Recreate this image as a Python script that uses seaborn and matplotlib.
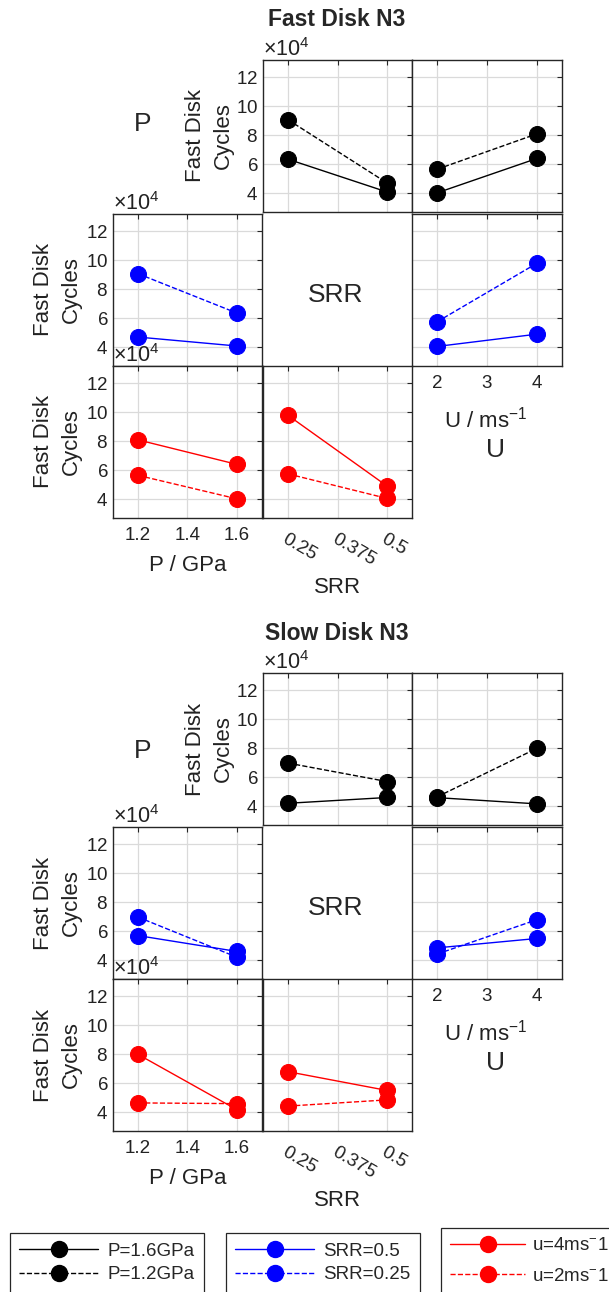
import matplotlib
matplotlib.use("Agg")
import matplotlib.pyplot as plt
import seaborn as sns
from matplotlib.lines import Line2D

# ---------------- data (cycles) ----------------
P_levels = [1.2, 1.6]          # GPa
SRR_levels = [0.25, 0.5]
U_levels = [2, 4]              # m/s

P_ticks = [1.2, 1.4, 1.6]
P_ticklabels = ["1.2", "1.4", "1.6"]
SRR_ticks = [0.25, 0.375, 0.5]
SRR_ticklabels = ["0.25", "0.375", "0.5"]
U_ticks = [2, 3, 4]
U_ticklabels = ["2", "3", "4"]
Y_ticks = [40000, 60000, 80000, 100000, 120000]

# Fast Disk N3
fast_P12_vs_SRR = [90800, 47000]    # P=1.2GPa at SRR 0.25, 0.5
fast_P16_vs_SRR = [63500, 40800]    # P=1.6GPa at SRR 0.25, 0.5
fast_P12_vs_U = [56500, 81000]      # P=1.2GPa at U 2, 4
fast_P16_vs_U = [40200, 64000]      # P=1.6GPa at U 2, 4
fast_SRR025_vs_U = [57500, 98000]   # SRR=0.25 at U 2, 4
fast_SRR05_vs_U = [40500, 49000]    # SRR=0.5 at U 2, 4

# Slow Disk N3
slow_P12_vs_SRR = [69800, 57000]
slow_P16_vs_SRR = [42000, 46000]
slow_P12_vs_U = [46400, 80000]
slow_P16_vs_U = [45900, 41600]
slow_SRR025_vs_U = [44200, 68000]
slow_SRR05_vs_U = [48500, 55000]

legend1_labels = ["P=1.6GPa", "P=1.2GPa"]
legend2_labels = ["SRR=0.5", "SRR=0.25"]
legend3_labels = [r"u=4ms$^{-}$1", r"u=2ms$^{-}$1"]

# ---------------- style ----------------
sns.set_style("white")
plt.rcParams["font.family"] = ["Liberation Sans", "DejaVu Sans"]
plt.rcParams["mathtext.fontset"] = "custom"
plt.rcParams["mathtext.rm"] = "Liberation Sans"
plt.rcParams["mathtext.it"] = "Liberation Sans:italic"
plt.rcParams["mathtext.bf"] = "Liberation Sans:bold"

W, H = 609, 1292
fig = plt.figure(figsize=(W / 100, H / 100), dpi=100)

SPINE = "#262626"
GRID = "#dadada"
TXT = "#222222"
TICK_FS = 13.5
LABEL_FS = 16
BIG_FS = 19
LW = 1.0
MS = 11.5

cols = [(113, 262), (263, 412), (412, 562)]
rows = [(60, 212), (214, 366), (366, 518)]

xinfo = {
    "P": ((1.1, 1.7), P_ticks, P_ticklabels),
    "SRR": ((0.1875, 0.5625), SRR_ticks, SRR_ticklabels),
    "U": ((1.5, 4.5), U_ticks, U_ticklabels),
}


def add_ax(col, row, off):
    x0, x1 = cols[col]
    y0, y1 = rows[row]
    y0 += off
    y1 += off
    return fig.add_axes([x0 / W, 1 - y1 / H, (x1 - x0) / W, (y1 - y0) / H])


def draw(ax, x, ys_solid, ys_dashed, color):
    sns.lineplot(x=x, y=ys_solid, ax=ax, color=color, lw=LW, marker="o",
                 markersize=MS, markeredgecolor=color, linestyle="-")
    sns.lineplot(x=x, y=ys_dashed, ax=ax, color=color, lw=LW, marker="o",
                 markersize=MS, markeredgecolor=color, linestyle="--")


def style(ax, xvar, show_x, show_y):
    lim, ticks, labels = xinfo[xvar]
    ax.set_xlim(*lim)
    ax.set_xticks(ticks)
    ax.set_ylim(27000, 132000)
    ax.set_yticks(Y_ticks)
    ax.grid(True, color=GRID, lw=0.9)
    ax.set_axisbelow(True)
    ax.set_xlabel("")
    ax.set_ylabel("")
    ax.tick_params(direction="in", top=True, right=True, length=3.5, width=0.8,
                   color=SPINE, labelsize=TICK_FS, labelcolor=TXT)
    ax.tick_params(axis="y", pad=3.5)
    ax.tick_params(axis="x", pad=6.5)
    ax.ticklabel_format(axis="y", style="sci", scilimits=(4, 4), useMathText=True)
    for s in ax.spines.values():
        s.set_color(SPINE)
        s.set_linewidth(1.0)
    if show_x:
        if xvar == "SRR":
            ax.set_xticklabels(labels, rotation=-30, ha="left", va="top",
                               rotation_mode="anchor")
            ax.tick_params(axis="x", pad=9)
        else:
            ax.set_xticklabels(labels)
    else:
        ax.tick_params(labelbottom=False)
    if show_y:
        ax.yaxis.get_offset_text().set_fontsize(15.5)
        ax.yaxis.get_offset_text().set_color(TXT)
    else:
        ax.tick_params(labelleft=False)
        ax.yaxis.get_offset_text().set_visible(False)


def ylab(ax, xpos):
    ax.set_ylabel("Fast Disk\nCycles", fontsize=LABEL_FS, va="center",
                  ha="center", multialignment="center", color=TXT,
                  linespacing=1.45)
    ax.yaxis.set_label_coords(xpos, 0.5)


def block(off, title, p_y, d):
    (P12_SRR, P16_SRR, P12_U, P16_U, S025_U, S05_U) = d
    # row 0 : black, P as the grouping factor
    ax = add_ax(1, 0, off)
    draw(ax, SRR_levels, P16_SRR, P12_SRR, "black")
    style(ax, "SRR", False, True)
    ylab(ax, -0.36)
    ax = add_ax(2, 0, off)
    draw(ax, U_levels, P16_U, P12_U, "black")
    style(ax, "U", False, False)
    # row 1 : blue, SRR as the grouping factor
    ax = add_ax(0, 1, off)
    draw(ax, P_levels, [P12_SRR[1], P16_SRR[1]], [P12_SRR[0], P16_SRR[0]], "blue")
    style(ax, "P", False, True)
    ylab(ax, -0.372)
    ax = add_ax(2, 1, off)
    draw(ax, U_levels, S05_U, S025_U, "blue")
    style(ax, "U", True, False)
    ax.set_xlabel(r"U / ms$^{-1}$", fontsize=LABEL_FS, va="center", color=TXT)
    ax.xaxis.set_label_coords(0.49, -0.35)
    # row 2 : red, U as the grouping factor
    ax = add_ax(0, 2, off)
    draw(ax, P_levels, [P12_U[1], P16_U[1]], [P12_U[0], P16_U[0]], "red")
    style(ax, "P", True, True)
    ylab(ax, -0.372)
    ax.set_xlabel("P / GPa", fontsize=LABEL_FS, va="center", color=TXT)
    ax.xaxis.set_label_coords(0.5, -0.31)
    ax = add_ax(1, 2, off)
    draw(ax, SRR_levels, [S025_U[1], S05_U[1]], [S025_U[0], S05_U[0]], "red")
    style(ax, "SRR", True, False)
    ax.set_xlabel("SRR", fontsize=LABEL_FS, va="center", color=TXT)
    ax.xaxis.set_label_coords(0.5, -0.46)

    fig.text(337 / W, 1 - (20 + off) / H, title, ha="center", va="center",
             fontsize=16.5, fontweight="bold")
    fig.text(143 / W, 1 - p_y / H, "P", ha="center", va="center", fontsize=BIG_FS)
    fig.text(336 / W, 1 - (295 + off) / H, "SRR", ha="center", va="center", fontsize=BIG_FS)
    fig.text(496 / W, 1 - (450 + off) / H, "U", ha="center", va="center", fontsize=BIG_FS)


block(0, "Fast Disk N3", 124,
      (fast_P12_vs_SRR, fast_P16_vs_SRR, fast_P12_vs_U, fast_P16_vs_U,
       fast_SRR025_vs_U, fast_SRR05_vs_U))
block(613, "Slow Disk N3", 751,
      (slow_P12_vs_SRR, slow_P16_vs_SRR, slow_P12_vs_U, slow_P16_vs_U,
       slow_SRR025_vs_U, slow_SRR05_vs_U))


def handles(color):
    return [Line2D([], [], color=color, lw=LW, ls="-", marker="o", ms=MS, mec=color),
            Line2D([], [], color=color, lw=LW, ls="--", marker="o", ms=MS, mec=color)]


def add_legend(h, labels, x, y, spacing=0.35, hl=4.2, htp=0.5):
    leg = fig.legend(h, labels, loc="upper left",
                     bbox_to_anchor=(x / W, 1 - y / H), bbox_transform=fig.transFigure,
                     fontsize=13.5, frameon=True, fancybox=False, framealpha=1,
                     edgecolor=SPINE, borderpad=0.5, labelspacing=spacing,
                     handlelength=hl, handletextpad=htp, borderaxespad=0)
    leg.get_frame().set_linewidth(0.9)
    return leg


add_legend(handles("black"), legend1_labels, 10, 1233)
add_legend(handles("blue"), legend2_labels, 226, 1233)
add_legend(handles("red"), legend3_labels, 441, 1228, spacing=0.7, hl=4.0, htp=0.35)

fig.savefig("out.png", dpi=100)
